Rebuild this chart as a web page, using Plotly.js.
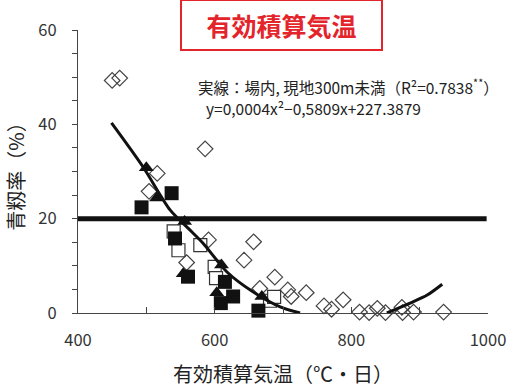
<!DOCTYPE html>
<html>
<head>
<meta charset="utf-8">
<script src="https://cdn.plot.ly/plotly-3.0.1.min.js"></script>
<style>html,body{margin:0;padding:0;background:#fff;}#chart{width:512px;height:392px;}</style>
</head>
<body>
<div id="chart"></div>
<script>
// Open diamonds
const diamondX = [450, 461, 516, 504, 586, 591, 559, 643, 657, 666, 688, 707, 712, 734, 760, 771, 788, 812, 826, 838, 850, 874, 875, 891, 935];
const diamondY = [49.3, 49.8, 29.6, 25.8, 34.8, 15.5, 10.7, 11.2, 15.1, 5.2, 7.6, 4.9, 3.5, 4.3, 1.5, 0.8, 2.8, 0.2, 0.1, 1.0, 0.1, 1.2, 0.1, 0.2, 0.2];
// Filled triangles
const triX = [500, 515, 556, 554, 610, 603, 669];
const triY = [30.8, 24.4, 19.4, 8.3, 10.2, 4.3, 3.5];
// Filled squares
const fsqX = [493, 537, 542, 561, 615, 627, 609, 664];
const fsqY = [22.4, 25.4, 15.8, 7.7, 6.6, 3.5, 2.1, 0.5];
// Open squares
const osqX = [540, 547, 579, 600, 602, 681, 687];
const osqY = [17.3, 13.3, 14.4, 9.8, 7.4, 2.6, 3.4];
// Fitted curve
const curveX = [449, 495, 535, 561, 583, 618, 656, 696, 725, null, 852, 886, 911, 933];
const curveY = [40.3, 31.0, 21.8, 18.0, 14.8, 8.7, 4.5, 1.3, 0.0, null, 0.0, 2.1, 3.8, 6.1];
// Threshold line
const thresholdX = [400, 998];
const thresholdY = [20, 20];
const xTicks = [400, 600, 800, 1000];
const yTicks = [0, 20, 40, 60];

const font = "'Noto Sans CJK JP', 'Noto Sans', sans-serif";
const dark = '#222';

const traces = [
  {x: thresholdX, y: thresholdY, mode: 'lines', line: {color: '#111', width: 5}, hoverinfo: 'skip', cliponaxis: false},
  {x: diamondX, y: diamondY, mode: 'markers', cliponaxis: false,
   marker: {symbol: 'diamond-open', size: 12, color: '#444', line: {width: 1.2}}},
  {x: osqX, y: osqY, mode: 'markers', cliponaxis: false,
   marker: {symbol: 'square', size: 13, color: '#fff', line: {color: '#333', width: 1.2}}},
  {x: fsqX, y: fsqY, mode: 'markers', cliponaxis: false,
   marker: {symbol: 'square', size: 14, color: '#111'}},
  {x: triX, y: triY, mode: 'markers', cliponaxis: false,
   marker: {symbol: 'triangle-up', size: 13, color: '#111'}},
  {x: curveX, y: curveY, mode: 'lines', connectgaps: false,
   line: {color: '#111', width: 3, shape: 'spline', smoothing: 0.8}}
];

const layout = {
  width: 512, height: 392,
  margin: {l: 78, r: 24, t: 30, b: 79},
  paper_bgcolor: '#fff', plot_bgcolor: '#fff',
  showlegend: false,
  font: {family: font, color: dark},
  xaxis: {
    range: [400, 1000], tickvals: xTicks, ticktext: xTicks.map(String),
    ticks: 'inside', ticklen: 6, tickcolor: '#444',
    minor: {dtick: 100, ticks: 'inside', ticklen: 6, tickcolor: '#444'},
    showline: true, linecolor: '#444', linewidth: 1, showgrid: false, zeroline: false,
    tickfont: {size: 16.5, color: '#333'}, ticklabelstandoff: 12,
    title: {text: '有効積算気温（℃・日）', font: {size: 20, color: '#222'}, standoff: 18}
  },
  yaxis: {
    range: [0, 60], tickvals: yTicks, ticktext: yTicks.map(String),
    ticks: 'outside', ticklen: 5, tickcolor: '#444',
    minor: {dtick: 5, ticks: 'outside', ticklen: 5, tickcolor: '#444'},
    showline: true, linecolor: '#444', linewidth: 1, showgrid: false, zeroline: false,
    tickfont: {size: 16.5, color: '#333'}, ticklabelstandoff: 12,
    title: {text: '青籾率（%）', font: {size: 20, color: '#222'}, standoff: 8}
  },
  annotations: [
    {xref: 'paper', yref: 'paper', x: (281 - 78) / 410, y: (313 - 25) / 283, xanchor: 'center', yanchor: 'middle',
     text: '<b>有効積算気温</b>', showarrow: false, font: {size: 25, color: '#e4242b', family: font},
     bordercolor: '#e4242b', borderwidth: 2, borderpad: 0, width: 199, height: 48, bgcolor: '#fff'},
    {xref: 'paper', yref: 'paper', x: (196 - 78) / 410, y: (313 - 86) / 283, xanchor: 'left', yanchor: 'middle',
     text: '実線：場内, 現地300m未満（R²=0.7838<sup>**</sup>）', showarrow: false, font: {size: 15.5, color: '#222'}},
    {xref: 'paper', yref: 'paper', x: (204 - 78) / 410, y: (313 - 108) / 283, xanchor: 'left', yanchor: 'middle',
     text: 'y=0,0004x²−0,5809x+227.3879', showarrow: false, font: {size: 15.5, color: '#222'}}
  ]
};

Plotly.newPlot('chart', traces, layout, {staticPlot: true, displayModeBar: false});
</script>
</body>
</html>
